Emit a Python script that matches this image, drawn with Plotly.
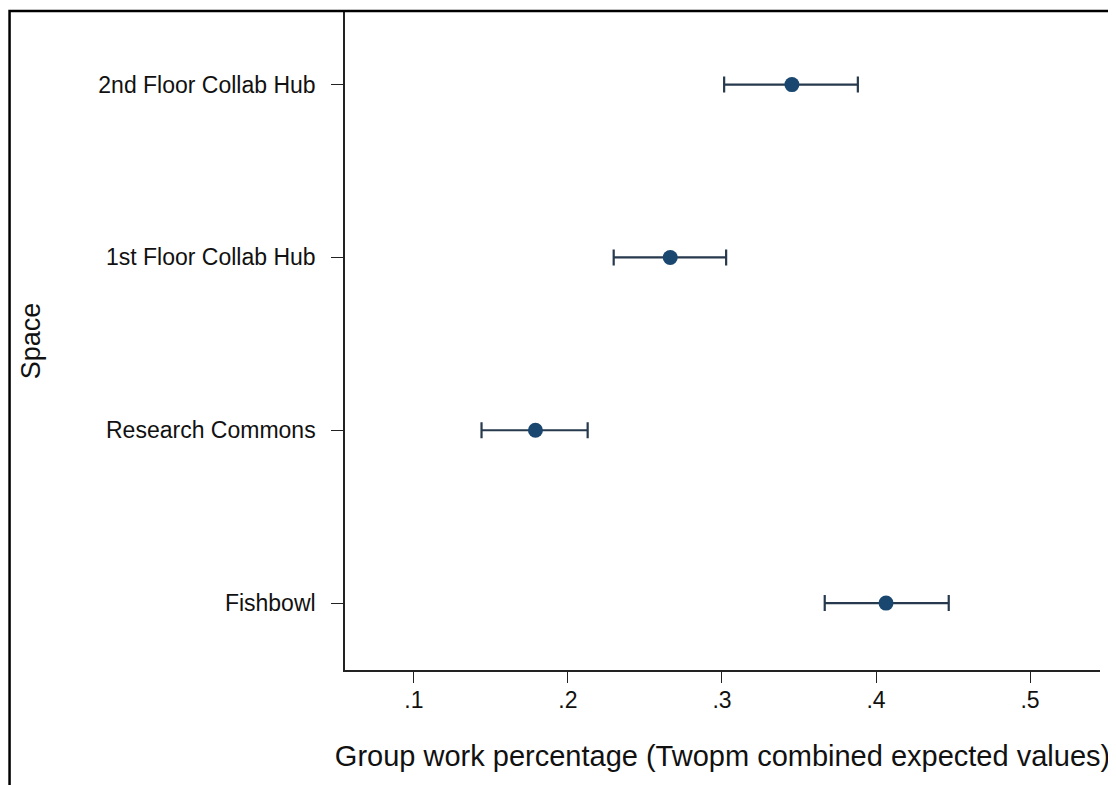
import plotly.graph_objects as go

spaces = ["Fishbowl", "Research Commons", "1st Floor Collab Hub", "2nd Floor Collab Hub"]
estimate = [0.4065, 0.1789, 0.2664, 0.3454]
ci_low = [0.3667, 0.1439, 0.2297, 0.3014]
ci_high = [0.4472, 0.2128, 0.3027, 0.3882]

tick_vals = [0.1, 0.2, 0.3, 0.4, 0.5]
tick_text = [".1", ".2", ".3", ".4", ".5"]

ypos = list(range(1, len(spaces) + 1))
err_plus = [h - e for h, e in zip(ci_high, estimate)]
err_minus = [e - l for e, l in zip(estimate, ci_low)]

fig = go.Figure()
fig.add_trace(go.Scatter(
    x=estimate, y=ypos, mode="markers",
    marker=dict(size=15, color="#1a476f"),
    error_x=dict(type="data", symmetric=False, array=err_plus, arrayminus=err_minus,
                 color="#26394d", thickness=2.2, width=8),
    showlegend=False, hoverinfo="x+y",
))

font_family = "Liberation Sans, Arial, sans-serif"
fig.update_layout(
    width=1108, height=777,
    margin=dict(l=337, r=16, t=4, b=115),
    paper_bgcolor="white", plot_bgcolor="white",
    font=dict(family=font_family, color="#111111"),
    xaxis=dict(
        range=[0.05527, 0.5454], tickvals=tick_vals, ticktext=tick_text,
        showline=True, linecolor="#222222", linewidth=1.5,
        ticks="outside", ticklen=11, tickcolor="#222222", tickwidth=1.2,
        showgrid=False, zeroline=False, tickfont=dict(size=23),
        ticklabelstandoff=-2,
        title=dict(text="Group work percentage (Twopm combined expected values)",
                   font=dict(size=29), standoff=33),
    ),
    yaxis=dict(
        range=[0.613, 4.42], tickvals=ypos, ticktext=spaces,
        showline=True, linecolor="#222222", linewidth=1.5,
        ticks="outside", ticklen=12, tickcolor="#222222", tickwidth=1.2,
        showgrid=False, zeroline=False, tickfont=dict(size=23),
        ticklabelstandoff=11,
        title=dict(text="Space", font=dict(size=27), standoff=50),
    ),
    shapes=[dict(type="rect", xref="paper", yref="paper",
                 x0=-0.4443, x1=1.1, y0=-0.3, y1=1.0015,
                 line=dict(color="black", width=2.5), layer="above")],
)

fig.write_html("out.html")
